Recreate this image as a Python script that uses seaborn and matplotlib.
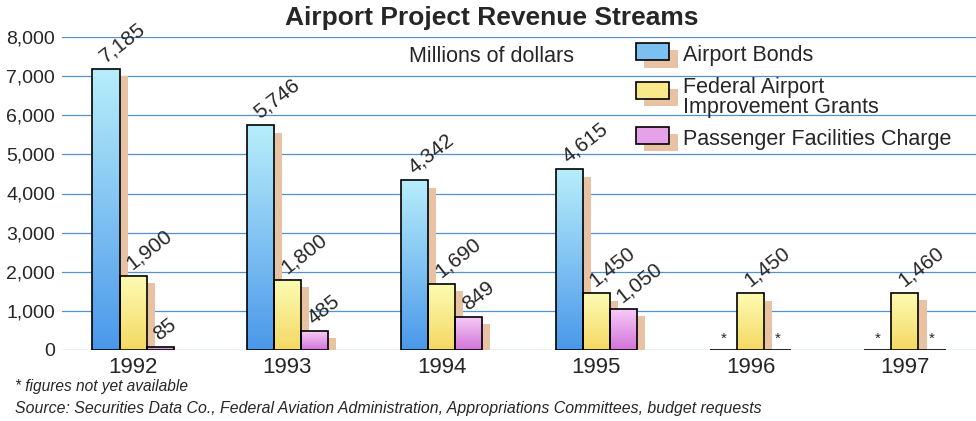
import numpy as np
import pandas as pd
import seaborn as sns
import matplotlib.pyplot as plt
from matplotlib.colors import LinearSegmentedColormap
from matplotlib.patches import Rectangle, Patch
from matplotlib.legend_handler import HandlerBase

# Data (millions of dollars); None = figures not yet available
years = ['1992', '1993', '1994', '1995', '1996', '1997']
airport_bonds = [7185, 5746, 4342, 4615, None, None]
federal_grants = [1900, 1800, 1690, 1450, 1450, 1460]
passenger_charge = [85, 485, 849, 1050, None, None]
series_names = ['Airport Bonds', 'Federal Airport\nImprovement Grants',
                'Passenger Facilities Charge']

# colours: (bottom, top) of each gradient
grads = [('#4a98ea', '#b8eefb'), ('#f4d862', '#fdfcb4'), ('#d274d8', '#f8ccf8')]
solid = ['#7cc0f2', '#f8ea8a', '#e6a2e8']
shadow_col = '#e9c2a4'

rows = []
for name, vals in zip(series_names, [airport_bonds, federal_grants, passenger_charge]):
    for y, v in zip(years, vals):
        rows.append({'year': y, 'series': name, 'value': v})
df = pd.DataFrame(rows)
df['plot_value'] = df['value'].fillna(0)

sns.set_style('white')
plt.rcParams['font.family'] = ['Liberation Sans', 'DejaVu Sans']

fig = plt.figure(figsize=(9.76, 4.21), dpi=100)
ax = fig.add_axes([62 / 976, 71 / 421, 914 / 976, 313 / 421])

sns.barplot(data=df, x='year', y='plot_value', hue='series', order=years,
            hue_order=series_names, palette=solid, width=0.525,
            edgecolor='black', linewidth=1.2, legend=False, ax=ax, zorder=3)

xlim = (-0.46, 5.46)
ylim = (0, 8000)

bar_groups = list(ax.containers)
for i, cont in enumerate(bar_groups):
    cmap = LinearSegmentedColormap.from_list('g%d' % i, list(grads[i]))
    vals = df[df['series'] == series_names[i]]['value'].tolist()
    for bar, v in zip(cont, vals):
        x, w, h = bar.get_x(), bar.get_width(), bar.get_height()
        cx = x + w / 2
        if v is None or pd.isna(v):
            ax.annotate('*', (cx, 0), xytext=(0, 3), textcoords='offset points',
                        ha='center', va='bottom', fontsize=11, zorder=5)
            continue
        # shadow to the right of each bar
        ax.bar(x + w, max(h - 190, 0), width=0.052, align='edge',
               color=shadow_col, linewidth=0, zorder=2)
        # vertical gradient fill clipped to the bar
        bar.set_facecolor('none')
        im = ax.imshow(np.linspace(0, 1, 256).reshape(-1, 1), extent=[x, x + w, 0, h],
                       origin='lower', aspect='auto', cmap=cmap, zorder=2.9)
        im.set_clip_path(bar)
        ax.annotate(f'{v:,.0f}', (cx, h), xytext=(1, 2), textcoords='offset points',
                    rotation=38, rotation_mode='anchor', ha='left', va='bottom',
                    fontsize=15, zorder=5)

ax.set_xlim(*xlim)
ax.set_ylim(*ylim)
ax.set_yticks(range(0, 8001, 1000))
ax.set_yticklabels([f'{t:,}' for t in range(0, 8001, 1000)])
ax.grid(axis='y', color='#5590cf', linewidth=0.9, zorder=0)
ax.grid(axis='x', visible=False)
ax.set_axisbelow(True)
ax.tick_params(axis='y', length=0, pad=5, labelsize=14)
ax.tick_params(axis='x', length=0, pad=5, labelsize=16)
ax.set_xlabel('')
ax.set_ylabel('')
for s in ax.spines.values():
    s.set_visible(False)


class ShadowHandler(HandlerBase):
    def create_artists(self, legend, orig, xd, yd, w, h, fs, trans):
        dy = getattr(orig, 'yshift', 0)
        sh = Rectangle((xd + 6, yd - 5.5 + dy), w, h, facecolor=shadow_col,
                       edgecolor='none', transform=trans)
        p = Rectangle((xd, yd + dy), w, h, facecolor=orig.get_facecolor(),
                      edgecolor='black', linewidth=1.2, transform=trans)
        return [sh, p]


handles = [Patch(facecolor=c) for c in solid]
handles[1].yshift = 4
leg = ax.legend(handles, series_names, loc='upper left',
                bbox_to_anchor=(636 / 976, 1 - 45 / 421),
                bbox_transform=fig.transFigure, frameon=False, fontsize=15.5,
                handler_map={Patch: ShadowHandler()}, handlelength=1.55,
                handleheight=0.85, handletextpad=0.65, labelspacing=0.5,
                borderaxespad=0, borderpad=0)
for t in leg.get_texts():
    t.set_linespacing(0.95)

fig.text(492 / 976, 1 - 18 / 421, 'Airport Project Revenue Streams', ha='center',
         va='center', fontsize=19, fontweight='bold')
fig.text(492 / 976, 1 - 57 / 421, 'Millions of dollars', ha='center', va='center',
         fontsize=15.5)
fig.text(15 / 976, 1 - 387 / 421, '* figures not yet available', ha='left',
         va='center', fontsize=11.2, style='italic')
fig.text(15 / 976, 1 - 408 / 421,
         'Source: Securities Data Co., Federal Aviation Administration, '
         'Appropriations Committees, budget requests',
         ha='left', va='center', fontsize=11.4, style='italic')

fig.savefig('out.png', dpi=100)
